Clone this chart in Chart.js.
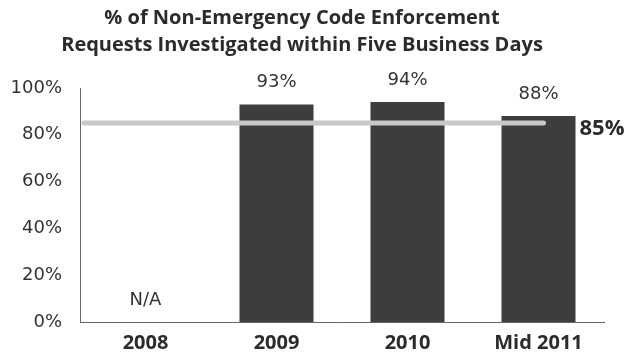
<!DOCTYPE html>
<html>
<head>
<meta charset="utf-8">
<script src="https://cdn.jsdelivr.net/npm/chart.js@4.4.1/dist/chart.umd.min.js"></script>
<style>
  html, body { margin: 0; padding: 0; background: #fff; }
  #wrap { width: 629px; height: 362px; }
</style>
</head>
<body>
<div id="wrap"><canvas id="chart"></canvas></div>
<script>
// Chart data
const categories = ['2008', '2009', '2010', 'Mid 2011'];
const values = [null, 93, 94, 88];
const valueLabels = ['N/A', '93%', '94%', '88%'];
const target = 85;
const targetLabel = '85%';
const titleLines = ['% of Non-Emergency Code Enforcement', 'Requests Investigated within Five Business Days'];

// Bar value labels, N/A marker and the target line
const overlayPlugin = {
  id: 'overlay',
  afterDatasetsDraw: function(chart) {
    const ctx = chart.ctx;
    const x = chart.scales.x;
    const y = chart.scales.y;
    const bars = chart.getDatasetMeta(0).data;

    ctx.save();
    ctx.fillStyle = '#333';
    ctx.font = '18px "DejaVu Sans"';
    ctx.textAlign = 'center';
    ctx.textBaseline = 'bottom';
    values.forEach(function(v, i) {
      if (v === null) {
        ctx.textBaseline = 'middle';
        ctx.fillText(valueLabels[i], x.getPixelForValue(i), y.getPixelForValue(0) - 22);
        ctx.textBaseline = 'bottom';
      } else {
        ctx.fillText(valueLabels[i], bars[i].x, bars[i].y - 13);
      }
    });

    // target line
    const ty = y.getPixelForValue(target);
    ctx.strokeStyle = '#c8c8c8';
    ctx.lineWidth = 5;
    ctx.lineCap = 'round';
    ctx.beginPath();
    ctx.moveTo(chart.chartArea.left + 4, ty);
    ctx.lineTo(x.getPixelForValue(categories.length - 1) + 5, ty);
    ctx.stroke();

    const last = bars[bars.length - 1];
    ctx.fillStyle = '#2b2b2b';
    ctx.font = 'bold 22px "Open Sans"';
    ctx.textAlign = 'left';
    ctx.textBaseline = 'middle';
    ctx.fillText(targetLabel, last.x + last.width / 2 + 4, ty + 6);
    ctx.restore();
  }
};

const chart = new Chart(document.getElementById('chart').getContext('2d'), {
  type: 'bar',
  data: {
    labels: categories,
    datasets: [{
      data: values,
      backgroundColor: '#3b3e3d',
      borderWidth: 0,
      categoryPercentage: 1,
      barPercentage: 0.565
    }]
  },
  options: {
    responsive: true,
    maintainAspectRatio: false,
    animation: false,
    layout: {
      padding: { left: 0, right: 25, top: 5, bottom: 0 }
    },
    plugins: {
      legend: { display: false },
      tooltip: { enabled: false },
      title: {
        display: true,
        text: titleLines,
        color: '#2b2b2b',
        font: { family: 'Open Sans', size: 20, weight: 'bold', lineHeight: 1.35 },
        padding: { top: 0, bottom: 29 }
      }
    },
    scales: {
      x: {
        grid: { display: false, drawTicks: false },
        border: { display: true, color: '#666', width: 1 },
        ticks: {
          color: '#2b2b2b',
          font: { family: 'Open Sans', size: 20, weight: 'bold' },
          padding: 9
        },
        afterFit: function(scale) { scale.height = 40; }
      },
      y: {
        min: 0,
        max: 100,
        grid: { display: false, drawTicks: false },
        border: { display: true, color: '#666', width: 1 },
        ticks: {
          stepSize: 20,
          color: '#333',
          font: { family: 'DejaVu Sans', size: 18 },
          padding: 18,
          callback: function(v) { return v + '%'; }
        },
        afterFit: function(scale) { scale.width = 80; }
      }
    }
  },
  plugins: [overlayPlugin]
});
</script>
</body>
</html>
